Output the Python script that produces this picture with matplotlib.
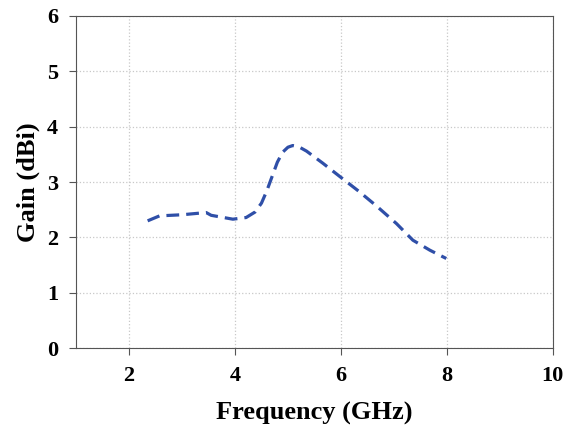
import numpy as np
import matplotlib.pyplot as plt

# gain vs frequency
freq = [2.35, 2.575, 3.0, 3.455, 3.55, 3.96, 4.21, 4.38, 4.50, 4.60, 4.70, 4.80,
        4.90, 5.00, 5.09, 5.20, 5.35, 5.66, 5.98, 6.33, 6.67, 7.05, 7.36, 7.68, 7.99]
gain = [2.30, 2.39, 2.41, 2.45, 2.40, 2.33, 2.36, 2.46, 2.62, 2.84, 3.10, 3.36,
        3.54, 3.63, 3.66, 3.64, 3.56, 3.34, 3.10, 2.84, 2.57, 2.25, 1.95, 1.77, 1.62]

xticks = [2, 4, 6, 8, 10]
yticks = [0, 1, 2, 3, 4, 5, 6]

plt.rcParams['font.family'] = ['Liberation Serif', 'DejaVu Serif']
plt.rcParams['font.weight'] = 'bold'

fig, ax = plt.subplots(figsize=(5.64, 4.32), dpi=100)
fig.subplots_adjust(left=0.135, right=0.98, top=0.963, bottom=0.194)

ax.plot(freq, gain, color='#2f4fa8', lw=2.3, ls=(0, (4, 2.2)))

ax.set_xlim(1, 10)
ax.set_ylim(0, 6)
ax.set_xticks(xticks)
ax.set_yticks(yticks)
ax.grid(True, color='#c8c8c8', ls=':', lw=0.9)
for s in ax.spines.values():
    s.set_color('#555555')
ax.tick_params(direction='out', length=5, color='#555555', labelsize=16, pad=8)
for t in ax.get_xticklabels() + ax.get_yticklabels():
    t.set_fontweight('bold')

ax.set_xlabel('Frequency (GHz)', fontsize=19, fontweight='bold', labelpad=11)
ax.set_ylabel('Gain (dBi)', fontsize=19, fontweight='bold', labelpad=5)

fig.savefig('out.png')
